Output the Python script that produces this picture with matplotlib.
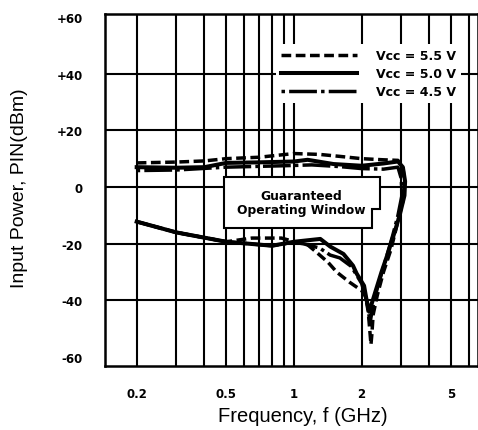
import matplotlib
matplotlib.use("Agg")
import matplotlib.pyplot as plt
from matplotlib.patches import Polygon

plt.rcParams['font.family'] = ['Liberation Sans', 'DejaVu Sans']
BOLD_FAM = ['DejaVu Sans']

# ---- data (frequency GHz, input power dBm) ----
f_55 = [0.2, 0.3, 0.4, 0.5, 0.7, 1.0, 1.3, 1.6, 2.0, 2.5, 2.9,
        3.05, 3.1, 3.05, 2.9, 2.7, 2.5, 2.35, 2.25, 2.22, 2.2,
        2.14, 2.08, 2.0, 1.77, 1.55, 1.42, 1.26, 1.14, 1.0, 0.88, 0.65, 0.5, 0.3, 0.2]
p_55 = [8.5, 8.8, 9.2, 10.0, 10.5, 11.8, 11.5, 10.8, 10.0, 9.6, 9.4,
        7.0, 2.0, -5.0, -12.0, -22.0, -30.0, -38.0, -45.0, -52.0, -55.5,
        -44.0, -38.5, -36.5, -33.6, -30.0, -26.6, -23.0, -20.1, -19.2, -18.0, -18.0, -19.3, -16.0, -12.2]

f_50 = [0.2, 0.3, 0.4, 0.5, 0.7, 1.0, 1.15, 1.5, 2.0, 2.5, 2.9,
        3.05, 3.12, 3.1, 2.95, 2.8, 2.6, 2.45, 2.3, 2.2, 2.16,
        2.1, 2.05, 1.9, 1.83, 1.66, 1.45, 1.31, 1.0, 0.8, 0.5, 0.3, 0.2]
p_50 = [7.0, 6.8, 7.0, 8.5, 8.7, 9.0, 9.6, 8.1, 7.5, 8.3, 9.0,
        7.0, 2.0, -3.0, -10.0, -16.0, -24.0, -30.0, -37.0, -42.0, -44.0,
        -39.5, -34.8, -30.5, -27.7, -23.6, -21.0, -18.3, -19.3, -20.7, -19.3, -16.0, -12.2]

f_45 = [0.2, 0.3, 0.5, 0.9, 1.2, 1.6, 2.0, 2.5, 2.9,
        3.0, 3.02, 2.9, 2.75, 2.55, 2.4, 2.27, 2.2, 2.18,
        2.12, 2.0, 1.8, 1.6, 1.45, 1.3, 1.1, 1.0, 0.8, 0.5, 0.3, 0.2]
p_45 = [5.8, 6.0, 7.0, 7.5, 7.8, 7.2, 6.5, 6.3, 7.0,
        3.0, -3.0, -10.0, -17.0, -26.0, -33.0, -40.0, -46.0, -48.0,
        -41.0, -34.0, -28.0, -25.0, -24.0, -21.5, -20.0, -19.5, -20.7, -19.3, -16.0, -12.2]

series_labels = ['Vcc = 5.5 V', 'Vcc = 5.0 V', 'Vcc = 4.5 V']

x_ticks = [0.2, 0.5, 1, 2, 5]
x_ticklabels = ['0.2', '0.5', '1', '2', '5']
x_grid = [0.2, 0.3, 0.4, 0.5, 0.6, 0.7, 0.8, 0.9, 1, 2, 3, 4, 5, 6]
y_ticks = [60, 40, 20, 0, -20, -40, -60]
y_ticklabels = ['+60', '+40', '+20', '0', '-20', '-40', '-60']

fig = plt.figure(figsize=(4.78, 4.31), dpi=100)
ax = fig.add_axes([105/478, 1-367/431, 373/478, 352/431])
ax.set_xscale('log')
ax.set_xlim(0.1446, 6.58)
ax.set_ylim(-63.1, 61.0)

for xv in x_grid:
    ax.axvline(xv, color='black', lw=1.5, zorder=1)
for yv in [40, 20, 0, -20, -40]:
    ax.axhline(yv, color='black', lw=1.5, zorder=1)

for s in ax.spines.values():
    s.set_linewidth(1.8)

ax.set_xticks(x_ticks)
ax.set_xticklabels(x_ticklabels, fontsize=8.5, fontweight='bold', family=BOLD_FAM)
ax.xaxis.set_minor_locator(matplotlib.ticker.NullLocator())
ax.set_yticks(y_ticks)
ax.set_yticklabels(y_ticklabels, fontsize=8.5, fontweight='bold', family=BOLD_FAM)
ax.tick_params(axis='both', length=0)
ax.tick_params(axis='x', pad=15)
ax.tick_params(axis='y', pad=16)

# Guaranteed operating window box
bx0, bx1 = (224-105)/373, (380-105)/373
by0, by1 = (367-229)/352, (367-178)/352
notch_x = (372-105)/373
notch_y = (367-210)/352
poly = Polygon([(bx0, by0), (bx0, by1), (bx1, by1), (bx1, notch_y),
                (notch_x, notch_y), (notch_x, by0)], closed=True,
               transform=ax.transAxes, fc='white', ec='black', lw=1.5, zorder=3)
ax.add_patch(poly)
ax.text((bx0+bx1)/2 - 0.003, (by0+by1)/2, 'Guaranteed\nOperating Window', transform=ax.transAxes,
        ha='center', va='center', fontsize=8.8, fontweight='bold', family=BOLD_FAM,
        linespacing=1.15, zorder=4)

l55, = ax.plot(f_55, p_55, color='black', lw=2.5, dashes=(2.8, 1.3), zorder=5, label=series_labels[0])
l45, = ax.plot(f_45, p_45, color='black', lw=2.5, dashes=(1.0, 1.2, 8.0, 1.2), zorder=5, label=series_labels[2])
l50, = ax.plot(f_50, p_50, color='black', lw=2.9, zorder=6, label=series_labels[1])

leg = ax.legend([l55, l50, l45], series_labels, loc='upper right',
                bbox_to_anchor=(0.955, 0.915), frameon=True, fancybox=False,
                edgecolor='none', facecolor='white', framealpha=1.0,
                prop={'family': BOLD_FAM, 'weight': 'bold', 'size': 9},
                handlelength=6.1, handletextpad=1.5,
                labelspacing=0.4, borderpad=0.4, borderaxespad=0.0)
leg.set_zorder(7)

ax.set_xlabel('Frequency, f (GHz)', fontsize=14.5)
ax.xaxis.set_label_coords((303-105)/373, (367-417)/352)
ax.xaxis.label.set_va('center')
ax.set_ylabel('Input Power, PIN(dBm)', fontsize=14)
ax.yaxis.set_label_coords((20-105)/373, (367-188)/352)
ax.yaxis.label.set_va('center')
ax.yaxis.label.set_ha('center')

fig.savefig('out.png', dpi=100)
